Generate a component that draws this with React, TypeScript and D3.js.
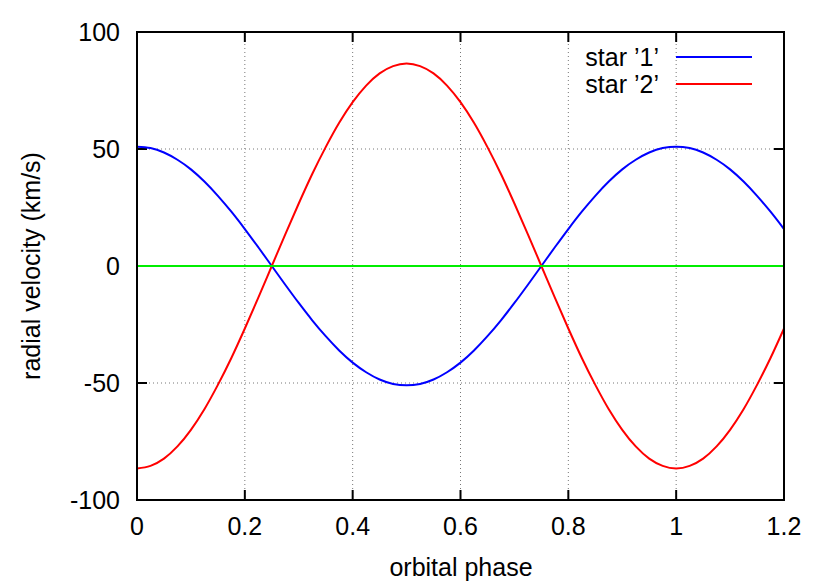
import React from "react";
import * as d3 from "d3";

const phases = [0, 0.025, 0.05, 0.075, 0.1, 0.125, 0.15, 0.175, 0.2, 0.225, 0.25, 0.275, 0.3, 0.325, 0.35, 0.375, 0.4, 0.425, 0.45, 0.475, 0.5, 0.525, 0.55, 0.575, 0.6, 0.625, 0.65, 0.675, 0.7, 0.725, 0.75, 0.775, 0.8, 0.825, 0.85, 0.875, 0.9, 0.925, 0.95, 0.975, 1.0, 1.025, 1.05, 1.075, 1.1, 1.125, 1.15, 1.175, 1.2];
const star1 = [51, 50.4, 48.5, 45.4, 41.3, 36.1, 30.0, 23.2, 15.8, 8.0, 0, -8.0, -15.8, -23.2, -30.0, -36.1, -41.3, -45.4, -48.5, -50.4, -51, -50.4, -48.5, -45.4, -41.3, -36.1, -30.0, -23.2, -15.8, -8.0, 0, 8.0, 15.8, 23.2, 30.0, 36.1, 41.3, 45.4, 48.5, 50.4, 51, 50.4, 48.5, 45.4, 41.3, 36.1, 30.0, 23.2, 15.8];
const star2 = [-86.5, -85.4, -82.3, -77.1, -70.0, -61.2, -50.8, -39.3, -26.7, -13.5, 0, 13.5, 26.7, 39.3, 50.8, 61.2, 70.0, 77.1, 82.3, 85.4, 86.5, 85.4, 82.3, 77.1, 70.0, 61.2, 50.8, 39.3, 26.7, 13.5, 0, -13.5, -26.7, -39.3, -50.8, -61.2, -70.0, -77.1, -82.3, -85.4, -86.5, -85.4, -82.3, -77.1, -70.0, -61.2, -50.8, -39.3, -26.7];
const systemicPhases = [0, 1.2];
const systemic = [0, 0];
const xTicks = [0, 0.2, 0.4, 0.6, 0.8, 1, 1.2];
const yTicks = [-100, -50, 0, 50, 100];
const seriesNames = ["star \u20191\u2019", "star \u20192\u2019"];

const W = 830, H = 581;
const L = 137, R = 784, T = 32, B = 500;
const FONT = "'Liberation Sans', Arial, Helvetica, sans-serif";
const FS = 25;

export default function App() {
  const x = d3.scaleLinear().domain([0, 1.2]).range([L, R]);
  const y = d3.scaleLinear().domain([-100, 100]).range([B, T]);
  const line = d3.line<number>().x((_, i) => x(phases[i])).y((v) => y(v)).curve(d3.curveMonotoneX);
  const lineSys = d3.line<number>().x((_, i) => x(systemicPhases[i])).y((v) => y(v));
  const tickLen = 10;
  const gridX = xTicks.filter((t) => t > 0 && t < 1.2);
  const gridY = yTicks.filter((t) => t > -100 && t < 100);
  const colors = ["#0000ff", "#ff0000"];
  const data = [star1, star2];

  return (
    <svg width={W} height={H} style={{ position: "fixed", left: 0, top: 0, background: "#fff" }} fontFamily={FONT}>
      <rect x={0} y={0} width={W} height={H} fill="#fff" />
      {gridX.map((t) => (
        <line key={"gx" + t} x1={x(t)} x2={x(t)} y1={T} y2={B} stroke="#777" strokeWidth={1} strokeDasharray="1,3" />
      ))}
      {gridY.map((t) => (
        <line key={"gy" + t} x1={L} x2={R} y1={y(t)} y2={y(t)} stroke="#777" strokeWidth={1} strokeDasharray="1,3" />
      ))}
      {xTicks.map((t) => (
        <g key={"xt" + t}>
          <line x1={x(t)} x2={x(t)} y1={B} y2={B - tickLen} stroke="#000" strokeWidth={2} />
          <line x1={x(t)} x2={x(t)} y1={T} y2={T + tickLen} stroke="#000" strokeWidth={2} />
          <text x={x(t)} y={535} textAnchor="middle" fontSize={FS} fill="#000">{String(t)}</text>
        </g>
      ))}
      {yTicks.map((t) => (
        <g key={"yt" + t}>
          <line x1={L} x2={L + tickLen} y1={y(t)} y2={y(t)} stroke="#000" strokeWidth={2} />
          <line x1={R} x2={R - tickLen} y1={y(t)} y2={y(t)} stroke="#000" strokeWidth={2} />
          <text x={120} y={y(t)} dy="0.35em" textAnchor="end" fontSize={FS} fill="#000">{String(t)}</text>
        </g>
      ))}
      {data.map((d, i) => (
        <path key={"s" + i} d={line(d) || ""} fill="none" stroke={colors[i]} strokeWidth={2} />
      ))}
      <path d={lineSys(systemic) || ""} fill="none" stroke="#00ee00" strokeWidth={2} />
      {seriesNames.map((n, i) => (
        <g key={"lg" + i}>
          <text x={659} y={57 + i * 27} dy="0.35em" textAnchor="end" fontSize={FS} fill="#000">{n}</text>
          <line x1={676} x2={752} y1={57 + i * 27} y2={57 + i * 27} stroke={colors[i]} strokeWidth={2} />
        </g>
      ))}
      <rect x={L} y={T} width={R - L} height={B - T} fill="none" stroke="#000" strokeWidth={2} />
      <text x={461} y={576} textAnchor="middle" fontSize={FS} fill="#000">orbital phase</text>
      <text transform={`translate(40, ${(T + B) / 2}) rotate(-90)`} textAnchor="middle" fontSize={FS} fill="#000">radial velocity (km/s)</text>
    </svg>
  );
}
